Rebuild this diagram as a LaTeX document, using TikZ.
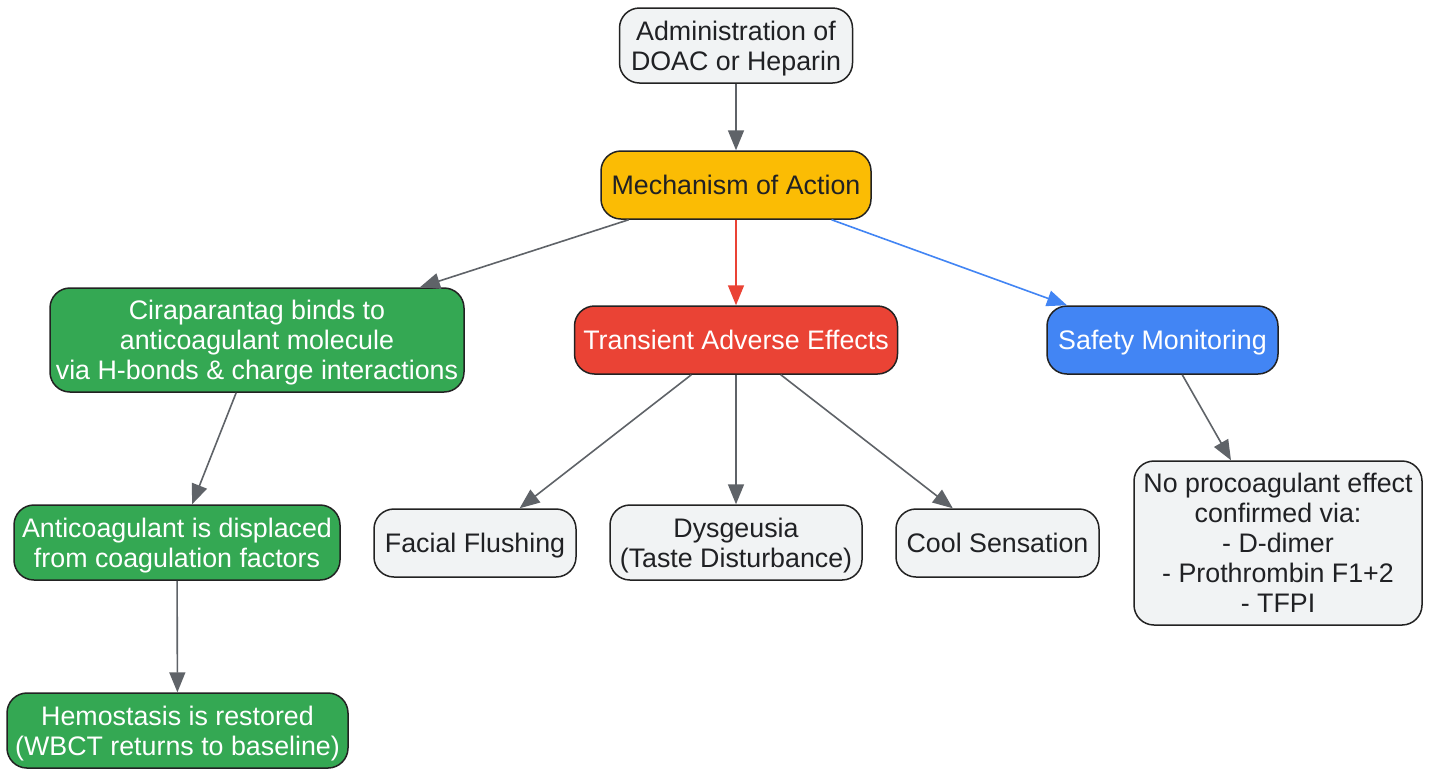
\documentclass[tikz,border=0pt]{standalone}
\usepackage{fontspec}
\setmainfont{Liberation Sans}
\usetikzlibrary{arrows.meta}
\definecolor{boxgray}{HTML}{F1F3F4}
\definecolor{boxgreen}{HTML}{34A853}
\definecolor{boxyellow}{HTML}{FBBC04}
\definecolor{boxred}{HTML}{EA4335}
\definecolor{boxblue}{HTML}{4285F4}
\definecolor{linegray}{HTML}{5F6368}
\definecolor{borderdark}{HTML}{222222}
\definecolor{textdark}{HTML}{202124}
\tikzset{
  box/.style={draw=borderdark, line width=0.75pt, rounded corners=10pt, inner sep=0pt,
    align=center, font=\fontsize{13.4}{15}\selectfont, text depth=0pt, text=textdark, fill=boxgray},
  greenbox/.style={box, fill=boxgreen, text=white},
  yellowbox/.style={box, fill=boxyellow},
  redbox/.style={box, fill=boxred, text=white},
  bluebox/.style={box, fill=boxblue, text=white},
  arrow/.style={draw=linegray, line width=0.8pt, -{Triangle[length=10pt,width=8pt]}, fill=linegray}
}
\begin{document}
\begin{tikzpicture}[x=0.5pt,y=-0.5pt]
\useasboundingbox (0,0) rectangle (1433,768);
\fill[white] (0,0) rectangle (1433,768);
\node[box, minimum width=116.5pt, minimum height=37.5pt] (admin) at (736,45.5) {Administration of\\DOAC or Heparin};
\node[yellowbox, minimum width=135pt, minimum height=34pt] (mech) at (736,185) {Mechanism of Action};
\node[greenbox, minimum width=207pt, minimum height=52pt] (cira) at (257,340) {Ciraparantag binds to\\anticoagulant molecule\\via H-bonds \& charge interactions};
\node[redbox, minimum width=161.5pt, minimum height=34pt] (trans) at (736,340) {Transient Adverse Effects};
\node[bluebox, minimum width=115.5pt, minimum height=34pt] (safety) at (1162.5,340) {Safety Monitoring};
\node[greenbox, minimum width=163pt, minimum height=37.5pt] (anti) at (177,542.5) {Anticoagulant is displaced\\from coagulation factors};
\node[box, minimum width=101pt, minimum height=34pt] (facial) at (475,543) {Facial Flushing};
\node[box, minimum width=126pt, minimum height=37.5pt] (dysg) at (736,542.5) {Dysgeusia\\(Taste Disturbance)};
\node[box, minimum width=101.5pt, minimum height=34pt] (cool) at (997.5,543) {Cool Sensation};
\node[box, minimum width=144pt, minimum height=82pt] (noproc) at (1278,543) {No procoagulant effect\\confirmed via:\\- D-dimer\\- Prothrombin F1+2\\- TFPI};
\node[greenbox, minimum width=170.5pt, minimum height=37.5pt] (hemo) at (177.5,730.5) {Hemostasis is restored\\(WBCT returns to baseline)};
% connectors
\draw[arrow] (admin) -- (mech);
\draw[arrow] (mech) -- (cira);
\draw[arrow, draw=boxred, fill=boxred] (mech) -- (trans);
\draw[arrow, draw=boxblue, fill=boxblue] (mech) -- (safety);
\draw[arrow] (cira) -- (anti);
\draw[arrow] (anti) -- (hemo);
\draw[arrow] (trans) -- (facial);
\draw[arrow] (trans) -- (dysg);
\draw[arrow] (trans) -- (cool);
\draw[arrow] (safety) -- (noproc);
\end{tikzpicture}
\end{document}
